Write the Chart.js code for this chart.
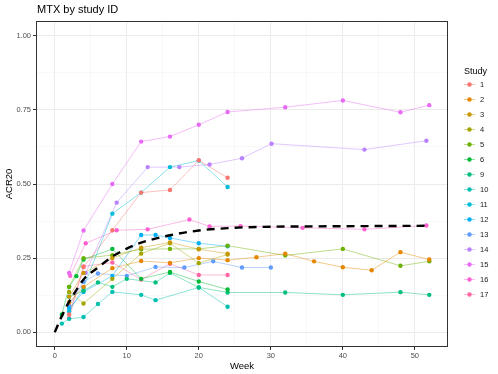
<!DOCTYPE html>
<html>
<head>
<meta charset="utf-8">
<script src="https://cdn.jsdelivr.net/npm/chart.js@4.4.0/dist/chart.umd.min.js"></script>
<style>
  html, body { margin: 0; padding: 0; background: #ffffff; }
  #mtx-chart { display: block; }
</style>
</head>
<body>
<canvas id="mtx-chart" width="498" height="374"></canvas>
<script>
// ACR20 response over time, one series per study ([week, ACR20])
const study1 = [[2, 0.06], [4, 0.22], [8, 0.344], [12, 0.471], [16, 0.48], [20, 0.58], [24, 0.521]];
const study2 = [[2, 0.10], [4, 0.153], [8, 0.216], [12, 0.24], [16, 0.234], [20, 0.25], [24, 0.243], [28, 0.253], [32, 0.265], [36, 0.239], [40, 0.219], [44, 0.209], [48, 0.27], [52, 0.245]];
const study3 = [[2, 0.12], [4, 0.20], [8, 0.25], [12, 0.285], [16, 0.303], [20, 0.28], [24, 0.265]];
const study4 = [[2, 0.136], [4, 0.097], [8, 0.18], [12, 0.265], [16, 0.30], [20, 0.233], [24, 0.262]];
const study5 = [[2, 0.153], [4, 0.25], [8, 0.26], [12, 0.28], [16, 0.281], [20, 0.281], [24, 0.292], [32, 0.259], [40, 0.281], [48, 0.224], [52, 0.239]];
const study6 = [[1, 0.06], [2, 0.153], [3, 0.189], [4, 0.245], [8, 0.281], [12, 0.18], [16, 0.203], [20, 0.171], [24, 0.144]];
const study9 = [[2, 0.12], [4, 0.14], [6, 0.168], [8, 0.153], [10, 0.18], [14, 0.168], [16, 0.20], [20, 0.151], [24, 0.134], [32, 0.134], [40, 0.126], [48, 0.135], [52, 0.126]];
const study10 = [[1, 0.029], [2, 0.045], [4, 0.051], [6, 0.095], [8, 0.136], [12, 0.126], [14, 0.108], [20, 0.151], [24, 0.086]];
const study11 = [[2, 0.07], [4, 0.15], [8, 0.40], [12, 0.471], [16, 0.557], [20, 0.579], [24, 0.49]];
const study12 = [[2, 0.08], [4, 0.136], [8, 0.19], [12, 0.328], [14, 0.328], [16, 0.318], [20, 0.30], [24, 0.29]];
const study13 = [[2, 0.09], [4, 0.17], [6, 0.198], [10, 0.19], [14, 0.22], [18, 0.218], [22, 0.239], [26, 0.218], [30, 0.218]];
const study14 = [[4.3, 0.20], [8.6, 0.437], [12.9, 0.557], [17.3, 0.557], [21.5, 0.566], [26, 0.587], [30.1, 0.636], [43, 0.616], [51.6, 0.646]];
const study15 = [[2, 0.20], [4, 0.343], [8, 0.50], [12, 0.643], [16, 0.66], [20, 0.70], [24, 0.743], [32, 0.759], [40, 0.782], [48, 0.742], [52, 0.766]];
const study16 = [[2.15, 0.19], [4.3, 0.30], [8.6, 0.344], [12.9, 0.347], [18.7, 0.38], [21.5, 0.357], [25.8, 0.358], [34.4, 0.352], [43, 0.347], [51.6, 0.36]];
const study17 = [[2, 0.047], [4, 0.222], [8, 0.235], [12, 0.178], [16, 0.231], [20, 0.193], [24, 0.193]];

// pooled fit (dashed black curve)
const pooledWeeks = [0, 1, 2, 3, 4, 6, 8, 10, 12, 16, 20, 24, 28, 36, 44, 52];
const pooledAcr = [0, 0.055, 0.103, 0.142, 0.178, 0.218, 0.255, 0.282, 0.302, 0.327, 0.343, 0.351, 0.355, 0.357, 0.358, 0.359];

const studyIds = ['1', '2', '3', '4', '5', '6', '9', '10', '11', '12', '13', '14', '15', '16', '17'];
const studySeries = [study1, study2, study3, study4, study5, study6, study9, study10, study11, study12, study13, study14, study15, study16, study17];

const xTicks = [0, 10, 20, 30, 40, 50];
const yTicks = [0, 0.25, 0.5, 0.75, 1];

// ggplot default hue palette for 15 levels
const studyColors = ['#F8766D', '#E58700', '#C99800', '#A3A500', '#6BB100', '#00BA38', '#00BF7D', '#00C0AF',
    '#00BCD8', '#00B0F6', '#619CFF', '#B983FF', '#E76BF3', '#FD61D1', '#FF67A4'];

const FONT = '"Liberation Sans", Arial, Helvetica, sans-serif';

function withAlpha(hex, a) {
    const n = parseInt(hex.slice(1), 16);
    return `rgba(${(n >> 16) & 255}, ${(n >> 8) & 255}, ${n & 255}, ${a})`;
}

function toPoints(pairs) {
    return pairs.map(p => ({ x: p[0], y: p[1] }));
}

const lineSets = studySeries.map((s, i) => ({
    label: studyIds[i],
    data: toPoints(s),
    borderColor: withAlpha(studyColors[i], 0.5),
    borderWidth: 0.9,
    pointRadius: 0,
    tension: 0,
    order: 2
}));

const pointSets = studySeries.map((s, i) => ({
    label: studyIds[i] + ' pts',
    data: toPoints(s),
    showLine: false,
    pointRadius: 2.2,
    pointBorderWidth: 0,
    pointBackgroundColor: studyColors[i],
    pointBorderColor: studyColors[i],
    order: 1
}));

const pooledSet = {
    label: 'pooled',
    data: pooledWeeks.map((w, i) => ({ x: w, y: pooledAcr[i] })),
    borderColor: '#000000',
    borderWidth: 2.4,
    borderDash: [8, 6],
    borderCapStyle: 'butt',
    pointRadius: 0,
    cubicInterpolationMode: 'monotone',
    order: 0
};

// draws title, panel border and the study legend
const decorPlugin = {
    id: 'decor',
    afterDraw(chart) {
        const { ctx, chartArea } = chart;
        ctx.save();
        ctx.strokeStyle = '#333333';
        ctx.lineWidth = 1;
        ctx.strokeRect(chartArea.left + 0.5, chartArea.top + 0.5,
            chartArea.right - chartArea.left - 1, chartArea.bottom - chartArea.top - 1);

        ctx.fillStyle = '#000000';
        ctx.font = `11px ${FONT}`;
        ctx.textBaseline = 'middle';
        ctx.textAlign = 'left';
        ctx.fillText('MTX by study ID', 37, 10);

        // legend
        ctx.font = `9px ${FONT}`;
        ctx.fillText('Study', 464, 71.5);
        ctx.font = `7.5px ${FONT}`;
        studyIds.forEach((id, i) => {
            const y = 84.5 + i * 15;
            ctx.strokeStyle = withAlpha(studyColors[i], 0.5);
            ctx.lineWidth = 0.9;
            ctx.beginPath();
            ctx.moveTo(464, y);
            ctx.lineTo(475, y);
            ctx.stroke();
            ctx.fillStyle = studyColors[i];
            ctx.beginPath();
            ctx.arc(469.5, y, 2.2, 0, Math.PI * 2);
            ctx.fill();
            ctx.fillStyle = '#1a1a1a';
            ctx.fillText(id, 480, y + 0.5);
        });
        ctx.restore();
    }
};

function isMajor(value, list) {
    return list.some(t => Math.abs(t - value) < 1e-9);
}

new Chart(document.getElementById('mtx-chart'), {
    type: 'line',
    data: { datasets: [...lineSets, ...pointSets, pooledSet] },
    options: {
        responsive: false,
        animation: false,
        devicePixelRatio: 1,
        layout: { padding: { top: 21, right: 50, left: 0, bottom: 0 } },
        plugins: {
            legend: { display: false },
            tooltip: { enabled: false },
            title: { display: false }
        },
        scales: {
            x: {
                type: 'linear',
                min: -2.6,
                max: 54.6,
                afterFit: scale => { scale.height = 27; },
                afterBuildTicks: scale => {
                    scale.ticks = [0, 5, 10, 15, 20, 25, 30, 35, 40, 45, 50].map(v => ({ value: v }));
                },
                border: { display: false },
                grid: {
                    color: c => isMajor(c.tick.value, xTicks) ? '#ebebeb' : '#f3f3f3',
                    lineWidth: c => isMajor(c.tick.value, xTicks) ? 1 : 0.6,
                    tickColor: c => isMajor(c.tick.value, xTicks) ? '#333333' : 'rgba(0,0,0,0)',
                    tickLength: 3
                },
                ticks: {
                    autoSkip: false,
                    maxRotation: 0,
                    padding: 1,
                    color: '#4d4d4d',
                    font: { family: FONT, size: 7.5 },
                    callback: v => isMajor(v, xTicks) ? String(v) : ''
                },
                title: {
                    display: true,
                    text: 'Week',
                    color: '#000000',
                    font: { family: FONT, size: 9.5 },
                    padding: { top: 0, bottom: 2 }
                }
            },
            y: {
                min: -0.05,
                max: 1.05,
                afterFit: scale => { scale.width = 36; },
                afterBuildTicks: scale => {
                    scale.ticks = [0, 0.125, 0.25, 0.375, 0.5, 0.625, 0.75, 0.875, 1].map(v => ({ value: v }));
                },
                border: { display: false },
                grid: {
                    color: c => isMajor(c.tick.value, yTicks) ? '#ebebeb' : '#f3f3f3',
                    lineWidth: c => isMajor(c.tick.value, yTicks) ? 1 : 0.6,
                    tickColor: c => isMajor(c.tick.value, yTicks) ? '#333333' : 'rgba(0,0,0,0)',
                    tickLength: 3
                },
                ticks: {
                    autoSkip: false,
                    padding: 2,
                    color: '#4d4d4d',
                    font: { family: FONT, size: 7.5 },
                    callback: v => isMajor(v, yTicks) ? v.toFixed(2) : ''
                },
                title: {
                    display: true,
                    text: 'ACR20',
                    color: '#000000',
                    font: { family: FONT, size: 9.5 },
                    padding: { top: 4, bottom: 0 }
                }
            }
        }
    },
    plugins: [decorPlugin]
});
</script>
</body>
</html>
